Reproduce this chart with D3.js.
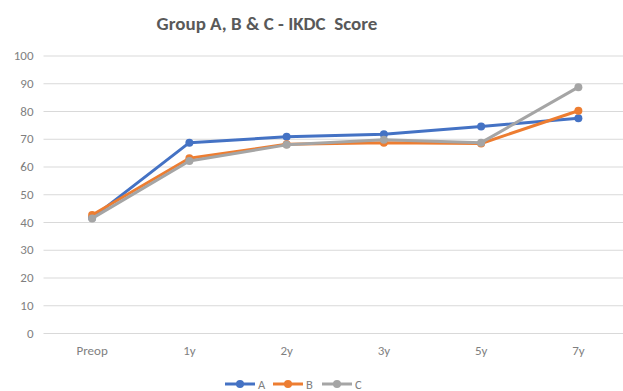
<!DOCTYPE html>
<html>
<head>
<meta charset="utf-8">
<script src="https://cdn.jsdelivr.net/npm/d3@7"></script>
<style>
  html, body { margin: 0; padding: 0; background: #fff; }
  svg { display: block; }
</style>
</head>
<body>
<svg id="chart" width="623" height="391"></svg>
<script>
// IKDC scores per follow-up time point
const categories = ["Preop", "1y", "2y", "3y", "5y", "7y"];
const seriesNames = ["A", "B", "C"];
const valuesA = [41.5, 68.6, 70.7, 71.6, 74.4, 77.4];
const valuesB = [42.5, 63.0, 68.0, 68.6, 68.3, 80.1];
const valuesC = [41.3, 62.0, 67.8, 69.6, 68.6, 88.6];
const yTicks = [0, 10, 20, 30, 40, 50, 60, 70, 80, 90, 100];
const colors = ["#4472C4", "#ED7D31", "#A5A5A5"];

const series = [
  { name: seriesNames[0], values: valuesA, color: colors[0] },
  { name: seriesNames[1], values: valuesB, color: colors[1] },
  { name: seriesNames[2], values: valuesC, color: colors[2] }
];

const svg = d3.select("#chart");
const font = "Carlito, 'Open Sans', 'Liberation Sans', sans-serif";

const x = d3.scaleBand().domain(categories).range([43.5, 627]);
const y = d3.scaleLinear().domain([0, 100]).range([333, 55.5]);

// Title
svg.append("text")
  .attr("x", 267).attr("y", 30)
  .attr("text-anchor", "middle")
  .attr("font-family", font)
  .attr("font-weight", 600)
  .attr("font-size", 19)
  .attr("fill", "#595959")
  .attr("xml:space", "preserve")
  .text("Group A, B & C - IKDC  Score");

// Horizontal gridlines and y labels
const yAxis = d3.axisLeft(y).tickValues(yTicks).tickSize(-(627 - 43.5)).tickPadding(10);
const gy = svg.append("g").attr("transform", "translate(43.5,0)").call(yAxis);
gy.select(".domain").remove();
gy.selectAll(".tick line").attr("stroke", "#d9d9d9").attr("stroke-width", 1.2);
gy.selectAll(".tick text")
  .attr("font-family", font).attr("font-size", 13).attr("fill", "#7f7f7f");

// Category labels
const xAxis = d3.axisBottom(x).tickSize(0).tickPadding(13);
const gx = svg.append("g").attr("transform", "translate(0,333)").call(xAxis);
gx.select(".domain").remove();
gx.selectAll(".tick text")
  .attr("font-family", font).attr("font-size", 13).attr("fill", "#7f7f7f");

// Lines and markers
const line = d3.line()
  .x((d, i) => x(categories[i]) + x.bandwidth() / 2)
  .y(d => y(d));

series.forEach(s => {
  const g = svg.append("g");
  g.append("path")
    .datum(s.values)
    .attr("fill", "none")
    .attr("stroke", s.color)
    .attr("stroke-width", 3)
    .attr("stroke-linejoin", "round")
    .attr("stroke-linecap", "round")
    .attr("d", line);
  g.selectAll("circle")
    .data(s.values)
    .join("circle")
    .attr("cx", (d, i) => x(categories[i]) + x.bandwidth() / 2)
    .attr("cy", d => y(d))
    .attr("r", 4)
    .attr("fill", s.color);
});

// Legend
const legendX = [225, 273, 322];
const legend = svg.append("g");
series.forEach((s, i) => {
  const lg = legend.append("g").attr("transform", `translate(${legendX[i]},384)`);
  lg.append("line").attr("x1", 0).attr("x2", 30).attr("y1", 0).attr("y2", 0)
    .attr("stroke", s.color).attr("stroke-width", 3);
  lg.append("circle").attr("cx", 15).attr("cy", 0).attr("r", 4).attr("fill", s.color);
  lg.append("text").attr("x", 33).attr("y", 4.5)
    .attr("font-family", font).attr("font-size", 12.5).attr("fill", "#7f7f7f")
    .text(s.name);
});
</script>
</body>
</html>
